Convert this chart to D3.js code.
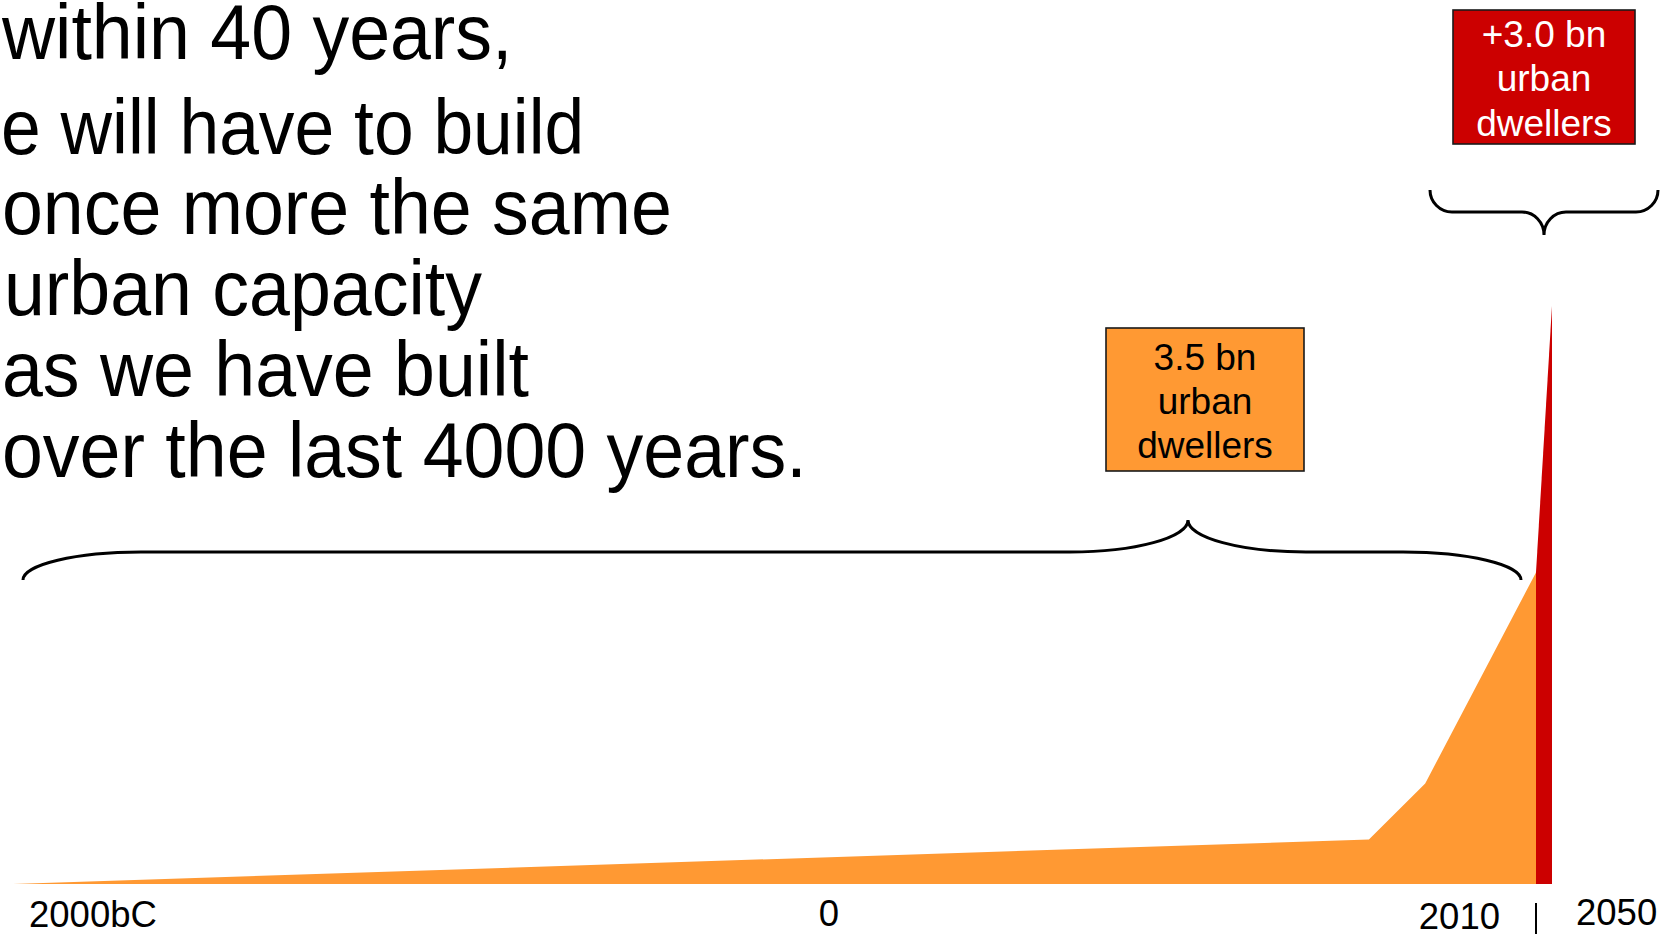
<!DOCTYPE html>
<html>
<head>
<meta charset="utf-8">
<script src="https://cdn.jsdelivr.net/npm/d3@7/dist/d3.min.js"></script>
<style>
  html, body { margin: 0; padding: 0; background: #fff; }
  svg { display: block; }
  text { font-family: "Liberation Sans", Arial, Helvetica, sans-serif; }
</style>
</head>
<body>
<svg id="chart" width="1670" height="934"></svg>
<script>
// Urban population, billions, historic part
const years = [-2000, 1535, 1695, 2010];
const urbanBn = [0, 0.5, 1.13, 3.5];
// Projected growth 2010 -> 2050
const growthYears = [2010, 2050];
const growthBn = [3.5, 6.5];
// Axis labels
const tickYears = [-2000, 0, 2010, 2050];
const tickLabels = ["2000bC", "0", "2010", "2050"];
// Headline text
const headline = [
  "within 40 years,",
  "e will have to build",
  "once more the same",
  "urban capacity",
  "as we have built",
  "over the last 4000 years."
];
const boxHistoric = ["3.5 bn", "urban", "dwellers"];
const boxGrowth = ["+3.0 bn", "urban", "dwellers"];

const svg = d3.select("#chart");
const baseY = 884;

// Broken time axis: long prehistory compressed, last decades stretched
const x = d3.scaleLinear()
  .domain([-2000, 0, 2010, 2050])
  .range([13, 829, 1536, 1552]);
const y = d3.scaleLinear()
  .domain([0, 7])
  .range([baseY, baseY - 7 * 89]);

const area = d3.area()
  .x(d => x(d[0]))
  .y0(y(0))
  .y1(d => y(d[1]));

svg.append("path")
  .datum(years.map((yr, i) => [yr, urbanBn[i]]))
  .attr("d", area)
  .attr("fill", "#FF9933");

svg.append("path")
  .datum(growthYears.map((yr, i) => [yr, growthBn[i]]))
  .attr("d", area)
  .attr("fill", "#CC0000");

// Headline, set in a slightly condensed face
const lineY = [58.6, 154.4, 234.3, 315.2, 396.2, 477.1];
const lineX = [2, 1, 2, 4, 2, 2];
const condense = [0.942, 0.915, 0.942, 0.942, 0.942, 0.942];
svg.append("g").selectAll("text")
  .data(headline)
  .join("text")
  .attr("x", (d, i) => lineX[i])
  .attr("y", (d, i) => lineY[i])
  .attr("font-size", 78)
  .attr("fill", "#000")
  .text(d => d)
  .each(function (d, i) {
    const len = this.getComputedTextLength();
    d3.select(this)
      .attr("textLength", len * condense[i])
      .attr("lengthAdjust", "spacingAndGlyphs");
  });

// Curly braces
function brace(x0, x1, xt, yEnd, yMid, yTip, rx) {
  const k = 0.55;
  const ry1 = yMid - yEnd, ry2 = yTip - yMid;
  return `M${x0},${yEnd}` +
    `C${x0},${yEnd + k * ry1} ${x0 + rx - k * rx},${yMid} ${x0 + rx},${yMid}` +
    `H${xt - rx}` +
    `C${xt - rx + k * rx},${yMid} ${xt},${yTip - k * ry2} ${xt},${yTip}` +
    `C${xt},${yTip - k * ry2} ${xt + rx - k * rx},${yMid} ${xt + rx},${yMid}` +
    `H${x1 - rx}` +
    `C${x1 - rx + k * rx},${yMid} ${x1},${yEnd + k * ry1} ${x1},${yEnd}`;
}
svg.append("path")
  .attr("d", brace(23, 1521, 1188, 580, 552, 520, 118))
  .attr("fill", "none").attr("stroke", "#000").attr("stroke-width", 3);
svg.append("path")
  .attr("d", brace(1430, 1658, 1544, 190, 212, 235, 22))
  .attr("fill", "none").attr("stroke", "#000").attr("stroke-width", 3);

// Value boxes
function box(x0, y0, w, h, fill, color, lines, base) {
  const g = svg.append("g");
  g.append("rect").attr("x", x0).attr("y", y0).attr("width", w).attr("height", h)
    .attr("fill", fill).attr("stroke", "#1a1a1a").attr("stroke-width", 1.6);
  g.selectAll("text").data(lines).join("text")
    .attr("x", x0 + w / 2)
    .attr("y", (d, i) => base + i * 44.3)
    .attr("text-anchor", "middle")
    .attr("font-size", 37)
    .attr("fill", color)
    .text(d => d);
}
box(1106, 328, 198, 143, "#FF9933", "#000", boxHistoric, 369.5);
box(1453, 10, 182, 134, "#CC0000", "#fff", boxGrowth, 47);

// Time axis labels
const labelDx = [16, 0, -36, 24];
const labelAnchor = ["start", "middle", "end", "start"];
const labelY = [927, 926, 929, 925];
svg.append("g").selectAll("text")
  .data(tickLabels)
  .join("text")
  .attr("x", (d, i) => x(tickYears[i]) + labelDx[i])
  .attr("y", (d, i) => labelY[i])
  .attr("text-anchor", (d, i) => labelAnchor[i])
  .attr("font-size", 36.5)
  .attr("fill", "#000")
  .text(d => d);

svg.append("line")
  .attr("x1", x(2010)).attr("x2", x(2010))
  .attr("y1", 903).attr("y2", 934)
  .attr("stroke", "#000").attr("stroke-width", 2);
</script>
</body>
</html>
